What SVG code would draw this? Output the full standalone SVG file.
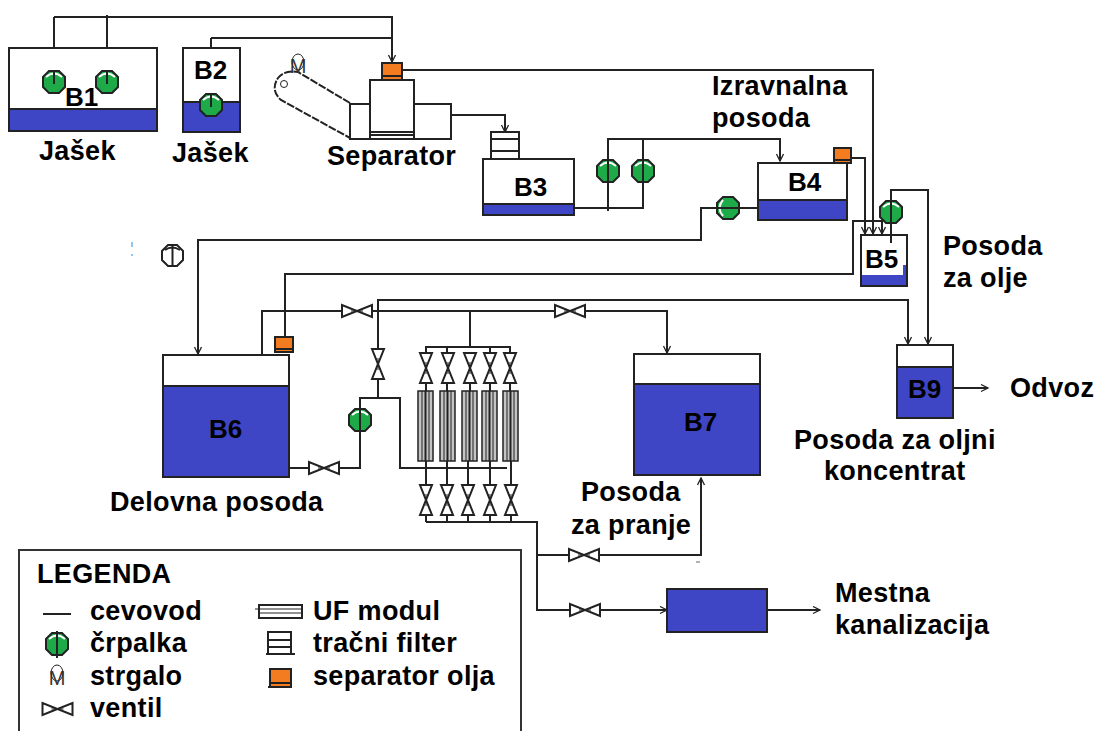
<svg xmlns="http://www.w3.org/2000/svg" width="1097" height="731" viewBox="0 0 1097 731">
<style>
.t{font-family:"Liberation Sans",Arial,sans-serif;font-weight:bold;font-size:27px;letter-spacing:.35px;fill:#000}
.b{font-size:26px;letter-spacing:0}
.k{font-family:"Liberation Sans",Arial,sans-serif;font-size:20px;fill:#333}
.p{fill:none;stroke:#222;stroke-width:2}
.f{fill:none;stroke:#222;stroke-width:1}
.s{fill:#fff;stroke:#222;stroke-width:2}
.w{fill:#3f46c6;stroke:#222;stroke-width:2}
.o{fill:#f47c20;stroke:#222;stroke-width:2}
.g{fill:#1faa4a;stroke:#222;stroke-width:2}
.m{fill:#c4c4c4;stroke:#222;stroke-width:1.500}
</style>
<defs>
<marker id="a" markerWidth="10" markerHeight="10" refX="8" refY="4" orient="auto" markerUnits="userSpaceOnUse"><path d="M1 0.500L8 4L1 7.500" fill="none" stroke="#222" stroke-width="1.300"/></marker>
<g id="pump"><path class="g" d="M-5 -11H5L11 -5V5L5 11H-5L-11 5V-5Z"/><path d="M-8 -5Q0 -12 8 -5" fill="none" stroke="#fff" stroke-width="2"/></g>
<g id="vh"><path class="s" d="M-15 -6V6L0 0Z"/><path class="s" d="M15 -6V6L0 0Z"/><path class="f" stroke-width="1.500" d="M-6 0H6"/></g>
<g id="vv"><path class="s" d="M-6 -15H6L0 0Z"/><path class="s" d="M-6 15H6L0 0Z"/><path class="f" stroke-width="1.500" d="M0 -6V6"/></g>
<g id="uf"><rect class="m" x="-7.500" y="0" width="15" height="70"/><path class="f" d="M-3.500 0V70M3.500 0V70"/><path class="p" stroke-width="1.500" d="M0 0V70"/></g>
</defs>

<g id="connectors" class="p">
<path d="M54 17V80M107 15V80M54 17H392V62" marker-end="url(#a)"/>
<path d="M211 38V100M211 38H392"/>
<path d="M402 70H873V234" marker-end="url(#a)"/>
<path d="M451 115H505V132" marker-end="url(#a)"/>
<path d="M574 208H643V139M608 211V139H780V161" marker-end="url(#a)"/>
<path d="M851 158H865V234" marker-end="url(#a)"/>
<path d="M285 337V274H853V221H882V234" marker-end="url(#a)"/>
<path d="M758 208H701V240H198V354" marker-end="url(#a)"/>
<path d="M891 243V190H928V344" marker-end="url(#a)"/>
<path d="M262 354V311H667V353" marker-end="url(#a)"/>
<path d="M378 398V300H908V344" marker-end="url(#a)"/>
<path d="M289 468H360V398H400V468H507"/>
<path d="M470 311V347M426 362V347H510V362M447 347V362M490 347V362"/>
<path d="M426 380V391M447 380V391M470 380V391M490 380V391M510 380V391"/>
<path d="M426 460V500M447 460V500M468 460V500M490 460V500M511 460V500"/>
<path d="M426 500V522M447 500V522M468 500V522M490 500V522M511 500V522"/>
<path d="M426 522H537V610H667" marker-end="url(#a)"/>
<path d="M537 555H701V478" marker-end="url(#a)"/>
<path d="M767 610H820" marker-end="url(#a)"/>
<path d="M953 388H988" marker-end="url(#a)"/>
</g>

<g id="B1"><rect class="s" x="9" y="48" width="148" height="83"/><rect class="w" x="9" y="109" width="148" height="22"/><text class="t b" x="65" y="106">B1</text><text class="t" x="39" y="160">Jašek</text></g>
<g id="pump-b1a"><use href="#pump" x="54" y="82"/><path class="p" d="M54 70V84"/></g>
<g id="pump-b1b"><use href="#pump" x="107" y="82"/><path class="p" d="M107 70V84"/></g>
<g id="B2"><rect class="s" x="183" y="48" width="57" height="84"/><rect class="w" x="183" y="102" width="57" height="30"/><text class="t b" x="194" y="79">B2</text><text class="t" x="172" y="162">Jašek</text></g>
<g id="pump-b2"><use href="#pump" x="211" y="105"/><path class="p" d="M211 93V107"/></g>

<g id="separator">
<path class="p" stroke-dasharray="8 1.500" stroke-width="1.500" d="M350 103L298 72Q284 70 278 78Q270 90 281 100L350 138"/>
<circle class="f" stroke-width="1.500" cx="284" cy="84" r="3.500"/>
<ellipse cx="298" cy="62" rx="6" ry="8" fill="#fff" stroke="#222" stroke-width="1"/>
<text class="k" x="298" y="73" text-anchor="middle">M</text>
<rect class="s" x="350" y="104" width="101" height="35"/>
<rect class="s" x="370" y="80" width="44" height="59"/>
<path class="p" stroke-width="1.500" d="M370 132H414M370 135H414"/>
<text class="t" x="327" y="165">Separator</text>
</g>
<g id="oil-sep-main"><rect class="o" x="382" y="63" width="20" height="17"/><path class="p" d="M382 76H402"/></g>

<g id="B3"><rect class="s" x="491" y="132" width="28" height="27"/><path class="p" d="M491 139H519M491 151H519"/><rect class="s" x="483" y="159" width="91" height="56"/><rect class="w" x="483" y="204" width="91" height="11"/><text class="t b" x="514" y="196">B3</text></g>
<g id="pump-b3a"><use href="#pump" x="608" y="171"/><path class="p" d="M608 160V182"/></g>
<g id="pump-b3b"><use href="#pump" x="643" y="171"/><path class="p" d="M643 160V182"/></g>

<g id="B4"><rect class="s" x="758" y="163" width="89" height="57"/><rect class="w" x="758" y="200" width="89" height="20"/><text class="t b" x="788" y="191">B4</text><text class="t" x="712" y="95">Izravnalna</text><text class="t" x="712" y="127">posoda</text></g>
<g id="oil-sep-b4"><rect class="o" x="834" y="148" width="17" height="15"/><path class="p" d="M834 160H851"/></g>
<g id="pump-b4"><use href="#pump" transform="translate(728 208) rotate(-90)"/><path class="p" d="M717 208H739"/></g>

<g id="B5"><rect class="s" x="861" y="235" width="46" height="51"/><path d="M862 275H903V265H906V285H862Z" fill="#3f46c6"/><text class="t b" x="865" y="268">B5</text><text class="t" x="943" y="255">Posoda</text><text class="t" x="943" y="287">za olje</text></g>
<g id="pump-b5"><use href="#pump" x="891" y="212"/><path class="p" d="M891 200V243"/></g>

<g id="B6"><rect class="s" x="163" y="355" width="126" height="122"/><rect class="w" x="163" y="386" width="126" height="91"/><text class="t b" x="209" y="438">B6</text><text class="t" x="110" y="511">Delovna posoda</text></g>
<g id="oil-sep-b6"><rect class="o" x="275" y="337" width="18" height="15"/><path class="p" d="M275 349H293"/></g>
<g id="pump-b6"><use href="#pump" x="360" y="420"/><path class="p" d="M360 408V432"/></g>
<g id="valve-b6"><use href="#vh" x="324" y="468"/></g>
<g id="valve-top1"><use href="#vh" x="357" y="311"/></g>
<g id="valve-top2"><use href="#vh" x="570" y="311"/></g>
<g id="valve-riser"><use href="#vv" x="378" y="364"/></g>

<g id="uf-modules">
<use href="#uf" x="425.500" y="391"/><use href="#uf" x="447.500" y="391"/><use href="#uf" x="469.500" y="391"/><use href="#uf" x="489.500" y="391"/><use href="#uf" x="510.500" y="391"/>
</g>
<g id="valves-upper">
<use href="#vv" x="426" y="368"/><use href="#vv" x="448" y="368"/><use href="#vv" x="470" y="368"/><use href="#vv" x="490" y="368"/><use href="#vv" x="510" y="368"/>
</g>
<g id="valves-lower">
<use href="#vv" x="426" y="500"/><use href="#vv" x="447" y="500"/><use href="#vv" x="468" y="500"/><use href="#vv" x="490" y="500"/><use href="#vv" x="511" y="500"/>
</g>

<g id="B7"><rect class="s" x="634" y="354" width="126" height="121"/><rect class="w" x="634" y="384" width="126" height="91"/><text class="t b" x="684" y="431">B7</text><text class="t" x="581" y="501">Posoda</text><text class="t" x="571" y="534">za pranje</text></g>
<g id="valve-b7"><use href="#vh" x="584" y="555"/></g>
<g id="valve-drain"><use href="#vh" x="585" y="610"/></g>
<g id="drain-box"><rect class="w" x="667" y="589" width="100" height="43"/><text class="t" x="835" y="602">Mestna</text><text class="t" x="835" y="634">kanalizacija</text></g>

<g id="B9"><rect class="s" x="897" y="345" width="56" height="73"/><rect class="w" x="897" y="367" width="56" height="51"/><text class="t b" x="908" y="398">B9</text><text class="t" x="1010" y="397">Odvoz</text><text class="t" x="794" y="449">Posoda za oljni</text><text class="t" x="824" y="480">koncentrat</text></g>

<g id="stray-symbol"><path class="p" stroke-width="1.500" d="M168 245H177L183 251V260L177 266H168L162 260V251Z"/><path class="p" stroke-width="1.500" d="M172.500 245V266M165 250Q172 245 180 250"/></g>
<path d="M132 242V247M132 254V256" stroke="#8ec6f5" stroke-width="2" fill="none"/>
<path d="M696 562H700" stroke="#666" stroke-width="1" fill="none"/>

<g id="legend">
<path fill="#fff" stroke="#333" stroke-width="2" d="M19 731V550H521V731"/>
<text class="t" x="37" y="583">LEGENDA</text>
<path class="p" d="M43 614H71"/>
<use href="#pump" x="57" y="644"/><path class="p" d="M57 631V658"/>
<ellipse cx="57" cy="673" rx="6" ry="8" fill="#fff" stroke="#222" stroke-width="1"/>
<text class="k" x="57" y="685" text-anchor="middle">M</text>
<use href="#vh" x="57.500" y="709"/>
<rect class="s" x="259" y="605" width="43" height="13"/><path class="f" stroke-width="1.500" d="M259 609H302M259 613H302M255 609H259"/>
<rect class="s" x="268" y="632" width="23" height="22"/><path class="p" d="M268 640H291M268 647H291M266 654H295"/>
<rect class="o" x="270" y="669" width="21" height="18"/><path class="p" d="M270 683H291M268 687H291"/>
<text class="t" x="90" y="620">cevovod</text>
<text class="t" x="90" y="652">črpalka</text>
<text class="t" x="90" y="685">strgalo</text>
<text class="t" x="90" y="717">ventil</text>
<text class="t" x="313" y="620">UF modul</text>
<text class="t" x="313" y="652">tračni filter</text>
<text class="t" x="313" y="685">separator olja</text>
</g>
</svg>
